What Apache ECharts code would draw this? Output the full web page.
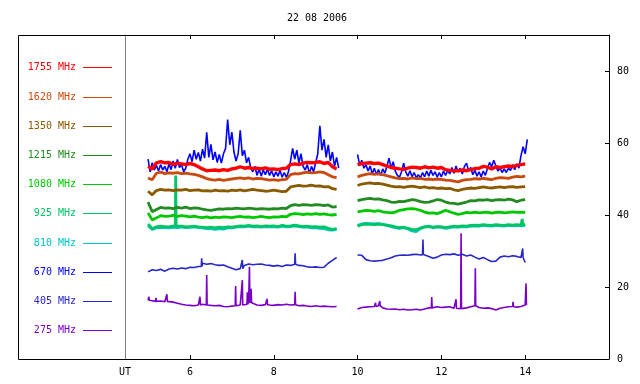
<!DOCTYPE html>
<html>
<head>
<meta charset="utf-8">
<script src="https://cdn.jsdelivr.net/npm/echarts@6/dist/echarts.min.js"></script>
<style>html,body{margin:0;padding:0;background:#fff}#c{width:640px;height:384px}</style>
</head>
<body>
<div id="c"></div>
<script>
// ---------- DATA ----------
const titleText = '22 08 2006';
const freqLabels = ['1755 MHz','1620 MHz','1350 MHz','1215 MHz','1080 MHz','925 MHz','810 MHz','670 MHz','405 MHz','275 MHz'];
const xTickValues = [6, 8, 10, 12, 14];
const yTickValues = [0, 20, 40, 60, 80];
const utLabel = 'UT';

// sampling grids (hours UT)
const hoursA = []; for (let i = 0; i < 46; i++) hoursA.push(Math.round((5 + i * 0.1) * 100) / 100);
const hoursB = []; for (let i = 0; i < 41; i++) hoursB.push(Math.round((10 + i * 0.1) * 100) / 100);
const hoursFineA = []; for (let i = 0; i < 92; i++) hoursFineA.push(Math.round((5 + i * 0.05) * 100) / 100);
const hoursFineB = []; for (let i = 0; i < 82; i++) hoursFineB.push(Math.round((10 + i * 0.05) * 100) / 100);

const v1755A = [53.5,52.8,54.5,54.8,54.5,54.6,54.0,54.4,54.2,54.0,
  54.3,54.0,53.4,52.8,52.3,52.4,52.5,52.3,52.6,52.4,
  52.8,53.0,53.4,53.0,53.2,52.9,53.0,52.8,53.1,52.7,
  52.8,52.6,52.9,53.0,54.0,54.2,54.0,54.4,54.6,54.5,
  54.6,54.8,54.3,54.6,53.4,52.8];
const v1755B = [54.0,54.3,54.4,54.5,54.3,54.4,54.0,53.6,53.2,53.0,
  52.8,52.7,53.0,53.3,53.2,53.0,53.4,53.1,53.3,53.0,
  53.2,52.6,52.4,52.3,52.3,52.5,52.3,52.6,52.9,53.0,
  53.5,53.3,52.8,53.4,53.2,53.4,53.6,53.4,53.8,54.0,
  54.2];
const v1620A = [50.3,49.8,51.6,51.9,51.5,51.7,51.6,51.8,51.5,51.6,
  51.4,51.3,51.0,50.6,50.1,49.8,49.7,49.9,49.6,49.8,
  50.0,50.2,50.3,50.1,50.3,50.0,50.2,50.1,49.9,49.7,
  49.8,49.6,49.8,49.9,51.2,51.5,51.4,51.7,51.9,51.7,
  51.8,52.0,51.8,51.2,50.6,50.4];
const v1620B = [50.6,51.0,51.3,51.5,51.3,51.4,51.2,50.9,50.6,50.3,
  50.1,50.2,50.0,50.3,50.1,50.2,49.9,50.0,49.8,50.0,
  49.9,49.7,49.6,49.4,49.2,49.6,49.8,49.9,50.1,50.0,
  50.2,50.0,49.8,50.2,50.4,50.3,50.2,50.5,50.7,50.6,
  50.8];
const v1350A = [46.6,45.6,46.8,47.1,46.9,47.0,46.8,47.0,46.9,47.1,
  46.8,46.9,47.0,46.7,46.8,46.6,46.9,46.7,46.8,46.6,
  46.9,46.8,47.0,46.7,46.9,47.1,46.9,46.8,46.6,46.7,
  46.9,46.7,46.5,46.6,47.8,48.0,48.2,48.0,48.1,48.3,
  48.0,48.1,47.8,47.9,47.3,47.1];
const v1350B = [48.2,48.6,48.8,48.9,48.7,48.8,48.6,48.3,48.0,47.8,
  47.9,47.7,47.9,48.0,47.8,47.6,47.8,47.5,47.6,47.4,
  47.5,47.3,47.4,47.0,46.8,47.1,47.3,47.5,47.4,47.6,
  47.8,47.6,47.5,47.7,47.8,47.6,47.8,47.9,47.7,47.8,
  47.9];
const v1215A = [43.6,40.9,41.5,42.1,41.9,42.0,41.8,42.1,41.9,42.2,
  41.8,42.0,41.9,41.6,41.4,41.3,41.5,41.7,41.6,41.8,
  41.7,41.9,41.8,41.7,41.9,41.8,41.6,41.8,41.7,41.6,
  41.8,41.7,41.9,41.8,42.6,42.9,42.7,42.9,42.8,42.7,
  42.9,42.8,42.6,42.8,42.2,42.3];
const v1215B = [44.0,44.3,44.5,44.6,44.4,44.5,44.2,44.0,43.6,43.5,
  43.8,43.7,44.0,44.3,44.1,43.7,43.5,43.6,43.9,44.3,
  44.1,43.6,43.3,43.2,43.0,43.3,43.6,44.0,43.9,44.2,
  44.1,44.3,44.0,44.2,44.3,44.1,44.4,44.2,43.7,44.1,
  44.3];
const v1080A = [40.6,38.6,39.2,39.8,39.6,39.7,39.9,39.6,39.8,39.7,
  39.5,39.7,39.4,39.3,39.5,39.2,39.4,39.3,39.5,39.4,
  39.3,39.5,39.6,39.4,39.5,39.3,39.4,39.6,39.4,39.3,
  39.5,39.4,39.6,39.5,40.2,40.4,40.3,40.1,40.3,40.2,
  40.4,40.2,40.3,40.1,40.0,40.2];
const v1080B = [40.9,41.1,41.3,41.2,41.0,41.2,40.9,40.7,40.6,40.8,
  41.3,41.5,41.7,41.8,41.6,41.3,40.8,40.5,40.6,40.4,
  40.8,41.3,40.9,40.5,40.2,40.4,40.7,40.6,40.8,40.6,
  40.7,40.8,40.5,40.7,40.8,40.6,40.7,40.9,40.7,40.8,
  40.7];
const v925A = [37.5,36.2,36.7,36.9,36.8,36.7,36.9,36.8,36.9,36.7,
  36.8,36.9,36.7,36.6,36.5,36.6,36.4,36.6,36.5,36.7,
  36.6,36.8,37.0,36.9,37.1,36.9,37.0,36.8,37.0,36.9,
  37.0,36.8,37.1,36.9,37.0,37.2,37.0,36.8,36.9,36.7,
  36.8,36.6,36.7,36.3,36.0,36.2];
const v925B = [36.9,37.3,37.5,37.4,37.3,37.5,37.3,37.2,37.0,36.7,
  36.5,36.6,36.3,36.0,35.9,36.4,36.7,36.8,36.6,36.8,
  36.7,36.5,36.7,36.9,36.8,37.0,36.9,37.1,37.2,37.1,
  37.3,37.2,37.1,37.3,37.2,37.1,37.3,37.2,37.3,37.2,
  37.4];
const v810A = [37.0,36.0,36.5,36.6,36.5,36.4,36.6,36.5,36.7,36.5,
  36.6,36.7,36.5,36.4,36.2,36.2,36.0,36.2,36.1,36.4,
  36.4,36.6,36.8,36.7,36.9,36.7,36.8,36.6,36.8,36.7,
  36.8,36.6,36.9,36.7,36.8,37.0,36.8,36.6,36.7,36.4,
  36.5,36.3,36.2,35.9,35.8,36.0];
const v810B = [37.1,37.5,37.7,37.6,37.5,37.6,37.4,37.1,36.8,36.5,
  36.3,36.5,36.1,35.6,35.4,36.2,36.7,36.9,36.5,36.7,
  36.6,36.3,36.5,36.7,36.6,36.8,36.7,36.9,37.0,36.9,
  37.1,37.0,36.9,37.1,37.0,36.9,37.1,37.0,37.1,37.0,
  37.2];
const v670A = [55.5,52.0,54.5,52.5,53.8,52.2,54.0,52.5,53.5,52.0,
  54.2,52.6,55.0,53.0,55.4,53.2,54.0,52.0,53.0,55.5,
  57.0,54.8,58.0,55.5,57.4,55.0,58.3,55.8,63.0,56.0,
  59.6,55.3,57.5,54.6,56.8,54.4,57.0,58.5,66.5,59.5,
  63.0,57.5,55.0,57.0,63.5,56.5,58.0,54.5,56.0,53.0,
  52.0,53.5,51.0,52.8,50.8,52.5,51.2,52.8,51.0,52.3,
  50.6,52.0,50.8,52.4,50.5,51.8,50.4,52.0,55.0,58.5,
  55.5,58.0,54.5,57.0,53.5,52.5,54.0,51.5,53.5,52.0,
  54.5,57.0,64.8,58.0,61.0,56.0,59.5,55.0,57.5,53.5,56.0,53.0];
const v670B = [56.8,53.8,55.2,53.0,54.0,52.2,53.6,51.5,53.0,51.2,
  52.6,51.0,52.8,51.6,53.5,55.8,53.0,54.8,52.2,51.0,
  50.5,52.0,54.4,52.0,50.8,52.3,50.6,51.8,50.4,51.2,
  50.3,51.8,50.6,52.2,50.8,52.4,51.0,52.0,50.5,51.8,
  50.6,52.2,51.0,52.4,51.4,53.2,51.6,53.6,52.0,53.0,
  51.4,53.5,54.4,52.2,53.2,51.2,52.4,50.8,52.0,50.6,
  52.2,51.0,53.0,54.6,53.4,55.2,53.6,52.2,53.0,51.8,
  52.8,51.8,53.0,52.4,54.0,52.6,54.2,53.0,56.5,59.0,
  57.0,61.0];
const v405A = [24.2,24.8,24.6,24.9,24.4,25.0,25.2,25.0,25.3,25.1,
  25.5,25.4,25.7,26.6,26.3,26.5,26.2,26.0,26.1,25.6,
  25.2,24.8,25.1,26.0,26.4,26.2,26.3,26.4,26.1,26.0,
  25.8,26.0,25.7,26.1,26.0,26.3,26.0,25.9,25.6,25.5,
  25.6,25.4,25.5,26.6,27.4,28.2];
const v405B = [28.9,28.8,27.6,27.3,27.2,27.3,27.4,27.8,28.1,28.6,
  28.8,28.9,28.8,29.0,29.1,28.9,29.0,28.5,28.0,28.3,
  28.9,29.1,29.0,29.2,28.8,29.1,28.6,28.9,28.3,27.8,
  28.2,27.6,27.1,27.2,28.3,28.6,28.4,28.7,28.5,28.2,
  26.8];
const v275A = [16.3,16.2,16.0,16.1,15.9,16.3,15.8,15.5,15.2,15.0,
  14.9,14.8,15.0,15.2,15.0,14.9,14.8,14.9,14.6,14.5,
  14.7,14.8,15.0,15.1,15.8,15.6,15.0,14.9,15.1,15.0,
  14.9,15.1,15.0,15.2,15.0,15.1,14.8,14.9,14.7,14.6,
  14.8,14.6,14.7,14.6,14.5,14.6];
const v275B = [13.9,14.3,14.4,14.5,14.6,14.8,14.2,13.9,13.8,13.9,
  13.7,13.8,13.6,13.7,13.8,13.6,13.9,14.2,14.4,14.5,
  14.3,14.4,14.5,14.1,13.9,14.0,14.2,14.5,14.8,14.3,
  14.1,14.2,14.0,13.6,14.1,14.3,14.5,14.6,14.4,14.6,
  15.0];

// spikes: [hour, base level, peak]
const spikes275 = [[5.02,16.3,17.3],[5.19,16.0,17.0],[5.45,16.0,18.0],[6.24,15.0,17.3],[6.40,15.0,23.3],
  [7.09,14.8,20.3],[7.25,15.0,21.9],[7.37,15.2,18.5],[7.42,15.6,25.6],[7.46,15.6,19.5],[7.84,15.1,16.7],
  [8.51,15.1,18.7],[10.43,14.6,15.6],[10.53,14.8,16.1],[11.77,14.2,17.2],[12.35,14.1,16.6],
  [12.47,14.0,34.9],[12.81,14.8,25.2],[13.71,14.6,15.9],[14.02,15.0,21.0]];
const spikes405 = [[6.28,25.7,28.0],[7.25,25.1,27.5],[8.51,26.3,29.4],[11.56,29.0,33.2],[13.94,28.2,30.7]];
const spikes925 = [[5.66,36.9,51.0],[13.93,37.2,38.9]];

// ---------- BUILD ----------
function build(tA, vA, tB, vB, spikes) {
  const pts = [];
  tA.forEach((t, i) => { if (i < vA.length) pts.push([t, vA[i]]); });
  tB.forEach((t, i) => { if (i < vB.length) pts.push([t, vB[i]]); });
  (spikes || []).forEach(s => { pts.push([s[0] - 0.01, s[1]], [s[0], s[2]], [s[0] + 0.01, s[1]]); });
  pts.push([9.8, null]);
  pts.sort((a, b) => a[0] - b[0]);
  return pts;
}

const colors = {
  '1755 MHz': '#ff0000', '1620 MHz': '#c84a0c', '1350 MHz': '#8a5a00', '1215 MHz': '#228b22',
  '1080 MHz': '#00c800', '925 MHz': '#00c466', '810 MHz': '#00c4c4', '670 MHz': '#0000ff',
  '405 MHz': '#2828c8', '275 MHz': '#7a00c8'
};
const widths = {
  '1755 MHz': 3.4, '1620 MHz': 2.8, '1350 MHz': 2.8, '1215 MHz': 2.8, '1080 MHz': 2.8,
  '925 MHz': 2.8, '810 MHz': 2.8, '670 MHz': 1.6, '405 MHz': 1.6, '275 MHz': 1.6
};
const seriesData = {
  '670 MHz': build(hoursFineA, v670A, hoursFineB, v670B),
  '275 MHz': build(hoursA, v275A, hoursB, v275B, spikes275),
  '405 MHz': build(hoursA, v405A, hoursB, v405B, spikes405),
  '810 MHz': build(hoursA, v810A, hoursB, v810B),
  '925 MHz': build(hoursA, v925A, hoursB, v925B, spikes925),
  '1080 MHz': build(hoursA, v1080A, hoursB, v1080B),
  '1215 MHz': build(hoursA, v1215A, hoursB, v1215B),
  '1350 MHz': build(hoursA, v1350A, hoursB, v1350B),
  '1620 MHz': build(hoursA, v1620A, hoursB, v1620B),
  '1755 MHz': build(hoursA, v1755A, hoursB, v1755B)
};

const FONT = 'DejaVu Sans Mono';
const series = Object.keys(seriesData).map(name => ({
  name, type: 'line', data: seriesData[name], xAxisIndex: 0, yAxisIndex: 0,
  showSymbol: false, symbol: 'none', connectNulls: false, animation: false,
  lineStyle: { color: colors[name], width: widths[name] }, itemStyle: { color: colors[name] }
}));

// legend drawn as graphics (right-aligned labels with line samples)
const graphics = [];
graphics.push({ type: 'polyline', shape: { points: [[125, 35.5], [18.5, 35.5], [18.5, 359.5], [125, 359.5]] },
  style: { stroke: '#000', lineWidth: 1, fill: null }, silent: true });
freqLabels.forEach((lab, i) => {
  const y = Math.round(67.3 + i * 29.2);
  graphics.push({ type: 'text', x: 76, y: y, style: { text: lab, fill: colors[lab], font: '10px "' + FONT + '"', textAlign: 'right', textVerticalAlign: 'middle' } });
  graphics.push({ type: 'line', shape: { x1: 83, y1: y + 0.5, x2: 112, y2: y + 0.5 }, style: { stroke: colors[lab], lineWidth: 1 } });
});

const axisFont = { fontFamily: FONT, fontSize: 10, color: '#000' };
const option = {
  animation: false,
  backgroundColor: '#fff',
  title: { text: titleText, left: 312, top: 8, textAlign: 'center',
    textStyle: { fontFamily: FONT, fontSize: 10, fontWeight: 'normal', color: '#000' } },
  grid: { left: 125, right: 31, top: 35, bottom: 25 },
  xAxis: [
    { type: 'value', min: 4.45, max: 16, position: 'bottom',
      axisLine: { show: true, onZero: false, lineStyle: { color: '#000', width: 1 } },
      axisTick: { show: true, inside: true, length: 4, customValues: xTickValues, lineStyle: { color: '#000' } },
      axisLabel: Object.assign({ customValues: [4.45].concat(xTickValues), margin: 8,
        formatter: v => (Math.abs(v - 4.45) < 1e-6 ? utLabel : String(v)) }, axisFont),
      splitLine: { show: false } },
    { type: 'value', min: 4.45, max: 16, position: 'top',
      axisLine: { show: true, onZero: false, lineStyle: { color: '#000', width: 1 } },
      axisTick: { show: true, inside: true, length: 4, customValues: xTickValues, lineStyle: { color: '#000' } },
      axisLabel: { show: false }, splitLine: { show: false } }
  ],
  yAxis: [
    { type: 'value', min: 0, max: 90, position: 'right',
      axisLine: { show: true, onZero: false, lineStyle: { color: '#000', width: 1 } },
      axisTick: { show: true, inside: true, length: 4, customValues: yTickValues, lineStyle: { color: '#000' } },
      axisLabel: Object.assign({ customValues: yTickValues, margin: 8 }, axisFont),
      splitLine: { show: false } },
    { type: 'value', min: 0, max: 90, position: 'left',
      axisLine: { show: true, onZero: false, lineStyle: { color: '#808080', width: 1 } },
      axisTick: { show: false }, axisLabel: { show: false }, splitLine: { show: false } }
  ],
  graphic: graphics,
  series: series
};

const chart = echarts.init(document.getElementById('c'), null, { renderer: 'canvas', width: 640, height: 384 });
chart.setOption(option);
</script>
</body>
</html>
